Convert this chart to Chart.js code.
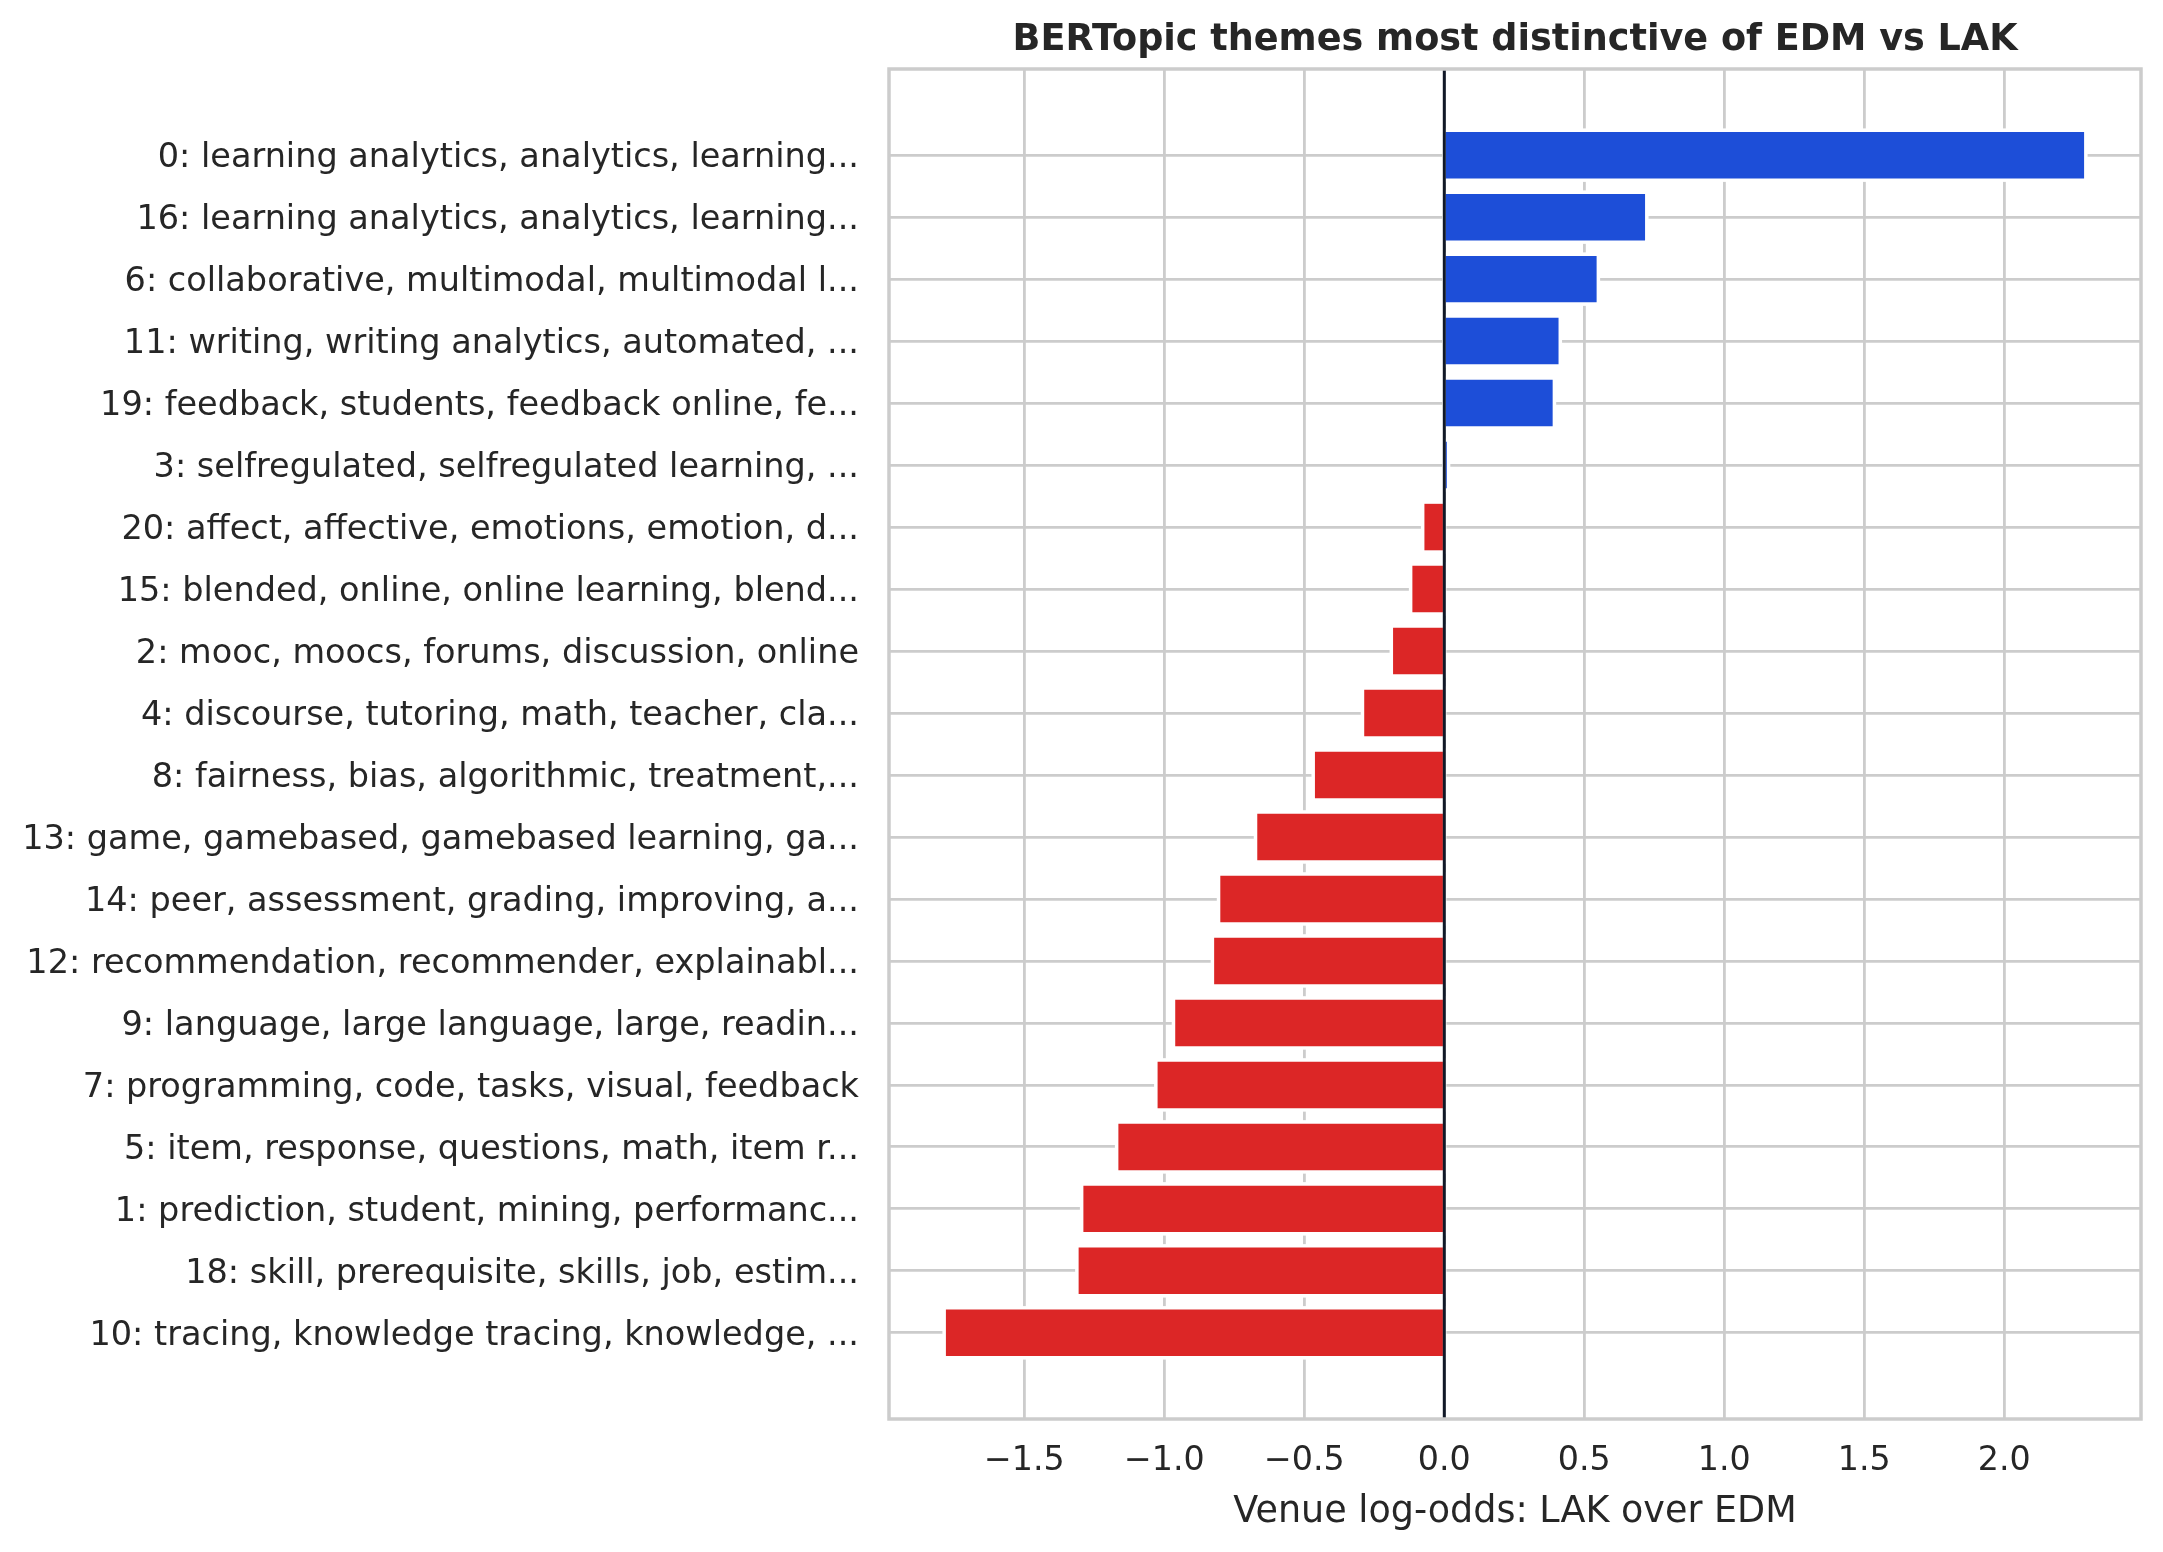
<!DOCTYPE html>
<html>
<head>
<meta charset="utf-8">
<script src="https://cdn.jsdelivr.net/npm/chart.js@4"></script>
<style>
  html, body { margin: 0; padding: 0; background: #ffffff; }
  canvas { display: block; }
</style>
</head>
<body>
<canvas id="themeChart" width="2163" height="1552"></canvas>
<script>
// topic labels, top to bottom
const topicLabels = [
    '0: learning analytics, analytics, learning...',
    '16: learning analytics, analytics, learning...',
    '6: collaborative, multimodal, multimodal l...',
    '11: writing, writing analytics, automated, ...',
    '19: feedback, students, feedback online, fe...',
    '3: selfregulated, selfregulated learning, ...',
    '20: affect, affective, emotions, emotion, d...',
    '15: blended, online, online learning, blend...',
    '2: mooc, moocs, forums, discussion, online',
    '4: discourse, tutoring, math, teacher, cla...',
    '8: fairness, bias, algorithmic, treatment,...',
    '13: game, gamebased, gamebased learning, ga...',
    '14: peer, assessment, grading, improving, a...',
    '12: recommendation, recommender, explainabl...',
    '9: language, large language, large, readin...',
    '7: programming, code, tasks, visual, feedback',
    '5: item, response, questions, math, item r...',
    '1: prediction, student, mining, performanc...',
    '18: skill, prerequisite, skills, job, estim...',
    '10: tracing, knowledge tracing, knowledge, ...'
];

// venue log-odds, LAK over EDM
const logOdds = [
    2.285, 0.717, 0.544, 0.408, 0.387, 0.009, -0.071, -0.114, -0.183, -0.286,
    -0.462, -0.668, -0.800, -0.822, -0.961, -1.024, -1.164, -1.289, -1.306, -1.780
];

const xTickValues = [-1.5, -1.0, -0.5, 0.0, 0.5, 1.0, 1.5, 2.0];

const LAK_BLUE = '#1d4ed8';
const EDM_RED = '#dc2626';
const TEXT = '#262626';
const GRID = '#cccccc';
const FONT = '"DejaVu Sans", "Liberation Sans", sans-serif';

// matplotlib style 5% margins
const lo = Math.min(0, ...logOdds);
const hi = Math.max(0, ...logOdds);
const xPad = (hi - lo) * 0.05;
const yPad = 1.39;

const fmtTick = v => v.toFixed(1).replace('-', '\u2212');

// white halo around each bar, cuts the grid like the original
const barHalo = {
    id: 'barHalo',
    beforeDatasetsDraw(chart) {
        const ctx = chart.ctx;
        const meta = chart.getDatasetMeta(0);
        ctx.save();
        ctx.fillStyle = '#ffffff';
        meta.data.forEach(bar => {
            const p = bar.getProps(['x', 'y', 'base', 'height'], true);
            const left = Math.min(p.x, p.base);
            ctx.fillRect(left - 3.5, p.y - p.height / 2 - 3.5, Math.abs(p.x - p.base) + 7, p.height + 7);
        });
        ctx.restore();
    }
};

const zeroLineAndFrame = {
    id: 'zeroLineAndFrame',
    afterDatasetsDraw(chart) {
        const { ctx, chartArea } = chart;
        const x0 = chart.scales.x.getPixelForValue(0);
        ctx.save();
        ctx.strokeStyle = '#111827';
        ctx.lineWidth = 3;
        ctx.beginPath();
        ctx.moveTo(x0, chartArea.top);
        ctx.lineTo(x0, chartArea.bottom);
        ctx.stroke();

        ctx.strokeStyle = GRID;
        ctx.lineWidth = 3.5;
        ctx.strokeRect(chartArea.left, chartArea.top, chartArea.right - chartArea.left, chartArea.bottom - chartArea.top);
        ctx.restore();
    },
    afterDraw(chart) {
        const { ctx, chartArea } = chart;
        ctx.save();
        ctx.font = 'bold 36.6px ' + FONT;
        ctx.fillStyle = TEXT;
        ctx.textAlign = 'center';
        ctx.textBaseline = 'alphabetic';
        ctx.fillText('BERTopic themes most distinctive of EDM vs LAK', (chartArea.left + chartArea.right) / 2, 50);
        ctx.restore();
    }
};

new Chart(document.getElementById('themeChart').getContext('2d'), {
    type: 'bar',
    data: {
        datasets: [{
            label: 'Venue log-odds',
            data: logOdds.map((v, i) => ({ x: v, y: i })),
            backgroundColor: logOdds.map(v => v >= 0 ? LAK_BLUE : EDM_RED),
            borderWidth: 0,
            barPercentage: 0.75,
            categoryPercentage: 1.0
        }]
    },
    options: {
        indexAxis: 'y',
        responsive: false,
        animation: false,
        devicePixelRatio: 1,
        layout: { padding: { left: 0, right: 22, top: 69, bottom: 0 } },
        plugins: {
            legend: { display: false },
            title: { display: false },
            tooltip: { enabled: false }
        },
        scales: {
            x: {
                type: 'linear',
                min: lo - xPad,
                max: hi + xPad,
                offset: false,
                afterBuildTicks: scale => { scale.ticks = xTickValues.map(v => ({ value: v })); },
                afterFit: scale => { scale.height = 133; },
                grid: { color: GRID, lineWidth: 2.8, drawTicks: false, offset: false },
                border: { display: false },
                ticks: {
                    color: TEXT,
                    font: { family: FONT, size: 33.3 },
                    padding: 22,
                    callback: v => fmtTick(v)
                },
                title: {
                    display: true,
                    text: 'Venue log-odds: LAK over EDM',
                    color: TEXT,
                    font: { family: FONT, size: 36.5 },
                    padding: { top: 0, bottom: 18 }
                }
            },
            y: {
                type: 'linear',
                reverse: true,
                offset: false,
                min: -yPad,
                max: topicLabels.length - 1 + yPad,
                afterBuildTicks: scale => { scale.ticks = topicLabels.map((_, i) => ({ value: i })); },
                afterFit: scale => { scale.width = 889; },
                grid: { color: GRID, lineWidth: 2.8, drawTicks: false, offset: false },
                border: { display: false },
                ticks: {
                    color: TEXT,
                    autoSkip: false,
                    font: { family: FONT, size: 33.5 },
                    padding: 30,
                    labelOffset: 3,
                    callback: v => topicLabels[v]
                }
            }
        }
    },
    plugins: [barHalo, zeroLineAndFrame]
});
</script>
</body>
</html>
